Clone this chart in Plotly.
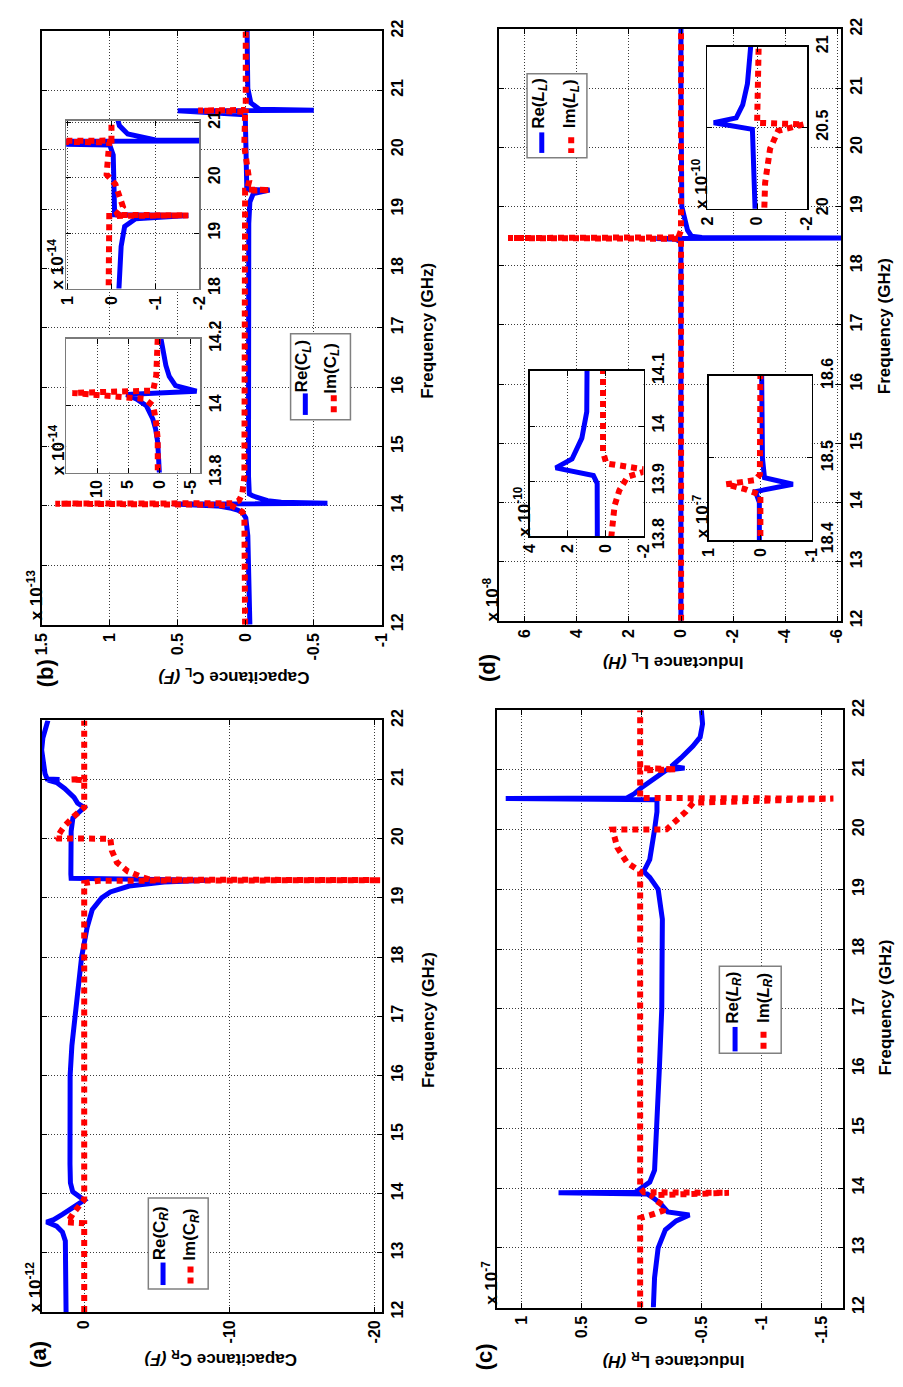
import plotly.graph_objects as go

# ---------------- data ----------------
# (a) Capacitance C_R, units of 1e-12 F
freq_a_re = [12.0, 12.5, 13.0, 13.2, 13.35, 13.45, 13.52, 13.56, 13.65, 13.75, 13.85, 13.89,
             14.03, 14.18, 14.5, 15.0, 16.0, 16.5, 17.0, 17.5, 18.0, 18.5, 18.8, 19.0, 19.1,
             19.2, 19.27, 19.3, 19.31, 19.33, 19.4, 20.13, 20.35, 20.46, 20.53, 20.6, 20.7,
             20.85, 20.95, 20.99, 21.0, 21.01, 21.1, 21.3, 21.5, 21.7, 21.85, 22.0]
re_a = [1.25, 1.25, 1.22, 1.3, 1.5, 1.9, 2.6, 2.1, 1.5, 0.9, 0.3, 0.0,
        0.79, 0.95, 0.98, 1.0, 0.97, 0.85, 0.6, 0.4, 0.18, -0.2, -0.55, -1.2, -1.8,
        -3.1, -5.5, -8.5, 0.5, 0.9, 0.92, 0.9, 0.78, 0.35, 0.0, 0.45, 0.7,
        1.35, 1.9, 2.5, 1.7, 2.55, 2.7, 2.85, 2.93, 2.85, 2.7, 2.5]
freq_a_im = [12.0, 13.5, 13.515, 13.55, 13.65, 13.75, 13.85, 13.9, 14.5, 19.25, 19.29, 19.3,
             19.31, 19.35, 19.45, 19.6, 19.8, 20.0, 20.005, 20.13, 20.23, 20.38, 20.53, 20.99,
             21.0, 21.01, 22.0]
im_a = [0.0, 0.0, 1.2, 1.05, 0.8, 0.5, 0.2, 0.0, 0.0, 0.0, -1.0, -20.4,
        -4.5, -4.0, -3.0, -2.25, -1.9, -1.8, 1.9, 1.6, 1.3, 0.7, 0.0, 0.0,
        0.9, 0.0, 0.0]

# (b) Capacitance C_L, units of 1e-14 F
freq_b_re = [12.0, 13.0, 13.5, 13.8, 13.85, 13.89, 13.93, 13.96, 14.0, 14.02, 14.033, 14.043,
             14.06, 14.087, 14.12, 14.17, 14.2, 14.5, 15.0, 16.0, 17.0, 18.0, 18.76, 19.12,
             19.26, 19.32, 19.33, 19.4, 19.82, 20.41, 20.59, 20.655, 20.665, 20.68, 20.79,
             20.94, 21.03, 21.5, 22.0]
re_b = [-0.3, -0.25, -0.15, 0.0, 0.1, 0.26, 0.6, 1.05, 2.1, 3.7, 5.3, -6.0,
        -2.6, -1.6, -1.05, -0.5, -0.26, -0.2, -0.2, -0.2, -0.18, -0.17, -0.22, -0.3,
        -0.55, -1.75, -0.07, -0.07, -0.06, -0.04, 0.04, 5.0, -5.0, -1.0, -0.37,
        -0.18, -0.15, -0.12, -0.1]
freq_b_im = [12.0, 13.8, 13.9, 13.96, 14.0, 14.02, 14.038, 14.045, 14.09, 14.2, 14.5, 19.2,
             19.31, 19.32, 19.33, 19.48, 19.7, 19.88, 20.06, 20.41, 20.64, 20.66, 20.67,
             21.0, 22.0]
im_b = [0.05, 0.1, 0.26, 0.6, 1.0, 2.4, 14.0, 1.0, 0.5, 0.26, 0.1, 0.05,
        0.05, -1.75, -0.1, -0.26, -0.15, -0.09, 0.11, 0.07, 0.05, 3.5, 0.0,
        0.0, 0.0]

# (c) Inductance L_R, units of 1e-7 H
freq_c_re = [12.0, 12.5, 13.0, 13.3, 13.45, 13.55, 13.6, 13.75, 13.85, 13.9, 13.92, 13.93,
             14.0, 14.1, 14.3, 15.0, 16.0, 17.0, 18.0, 18.5, 19.0, 19.2, 19.3, 19.5, 20.0,
             20.3, 20.5, 20.52, 20.53, 20.6, 20.7, 20.85, 21.0, 21.03, 21.06, 21.2, 21.4,
             21.55, 21.77, 22.0]
re_c = [-0.10, -0.11, -0.14, -0.2, -0.29, -0.40, -0.22, -0.155, -0.09, -0.05, 0.69, 0.05,
        0.0, -0.07, -0.11, -0.13, -0.15, -0.17, -0.18, -0.175, -0.14, -0.07, -0.02, -0.07, -0.11,
        -0.13, -0.13, 1.13, 0.12, 0.06, 0.0, -0.1, -0.21, -0.36, -0.25, -0.33, -0.43,
        -0.49, -0.51, -0.5]
freq_c_im = [12.0, 13.5, 13.55, 13.62, 13.7, 13.78, 13.88, 13.92, 13.93, 14.0, 19.3, 19.45,
             19.7, 20.0, 20.005, 20.15, 20.3, 20.45, 20.52, 20.53, 20.99, 21.01, 21.03, 22.0]
im_c = [0.01, 0.01, -0.08, -0.18, -0.19, -0.13, -0.08, -0.73, -0.02, 0.01, 0.01, 0.12,
        0.2, 0.24, -0.21, -0.29, -0.37, -0.43, -1.6, 0.01, 0.01, -0.29, 0.01, 0.01]

# (d) Inductance L_L, units of 1e-10 H
freq_d_re = [12.0, 13.8, 13.896, 13.91, 13.924, 13.94, 13.978, 14.026, 14.1, 15.0, 17.0,
             18.4, 18.446, 18.459, 18.468, 18.476, 18.5, 18.6, 19.0, 19.8, 20.03, 20.37,
             20.49, 20.53, 20.56, 20.64, 20.77, 21.0, 22.0]
re_d = [0.3, 0.4, 0.45, 0.65, 2.64, 1.78, 1.26, 1.0, 0.83, 0.5, 0.3,
        0.2, 20.0, 95.0, -630.0, -80.0, -40.0, -25.0, -3.0, 0.05, 0.09, 0.13,
        0.19, 1.74, 0.84, 0.58, 0.39, 0.26, 0.2]
freq_d_im = [12.0, 13.8, 13.855, 13.883, 13.908, 13.92, 13.932, 13.953, 14.1, 15.0, 18.0,
             18.455, 18.462, 18.468, 18.473, 18.48, 18.6, 19.8, 20.03, 20.16, 20.37, 20.48,
             20.52, 20.53, 21.0, 22.0]
im_d = [-0.2, -0.3, -0.47, -0.72, -1.16, -2.3, -0.03, 0.14, 0.14, 0.1, 0.0,
        0.0, 300.0, 665.0, 100.0, 10.0, 0.0, -0.2, -0.26, -0.32, -0.52, -0.84,
        -1.87, 0.0, -0.06, 0.0]

# tick values
freq_ticks = [12, 13, 14, 15, 16, 17, 18, 19, 20, 21, 22]
ticks_a = [0, -10, -20]
ticks_b = [1.5, 1, 0.5, 0, -0.5, -1]
ticks_c = [1, 0.5, 0, -0.5, -1, -1.5]
ticks_d = [6, 4, 2, 0, -2, -4, -6]
ticks_b1_val = [10, 5, 0, -5]
ticks_b1_f = [13.8, 14, 14.2]
ticks_b2_val = [1, 0, -1, -2]
ticks_b2_f = [18, 19, 20, 21]
ticks_dA_val = [4, 2, 0, -2]
ticks_dA_f = [13.8, 13.9, 14, 14.1]
ticks_dB_val = [1, 0, -1]
ticks_dB_f = [18.4, 18.5, 18.6]
ticks_dC_val = [2, 0, -2]
ticks_dC_f = [20, 20.5, 21]

# ---------------- figure ----------------
W, H = 903, 1387
FONT = "Liberation Sans"
BLUE = "#0000ff"
RED = "#ff0000"


def px_x(x):
    return x / W


def px_y(y):
    return 1 - y / H


def nm(n):
    return "" if n == 1 else str(n)


def fmt(v):
    return "%g" % v


# id, x-domain px, y-domain px (top,bottom), value range, value ticks, freq range, freq ticks, style
specs = [
    (1, (33.3, 380), (718.5, 1323.5), [2.93, -20.5], ticks_a, [12, 22], freq_ticks, "main"),
    (2, (33.3, 380), (13.3, 620.5), [1.5, -1], ticks_b, [12, 22], freq_ticks, "main"),
    (3, (497.7, 850), (708, 1319), [1.2, -1.68], ticks_c, [12, 22], freq_ticks, "main"),
    (4, (499.3, 848), (11.3, 616.6), [7.0, -6.15], ticks_d, [12, 22], freq_ticks, "main"),
    (5, (58.3, 195), (328, 465), [15, -6.6], ticks_b1_val, [13.8, 14.2], ticks_b1_f, "gray"),
    (6, (58.3, 194), (105, 276.7), [1.03, -2], ticks_b2_val, [18, 21.03], ticks_b2_f, "gray"),
    (7, (531, 646.7), (361, 530), [4, -2], ticks_dA_val, [13.8, 14.1], ticks_dA_f, "black"),
    (8, (713.3, 818.3), (366, 534), [1, -1], ticks_dB_val, [18.4, 18.6], ticks_dB_f, "black"),
    (9, (711.7, 813.3), (29.3, 195), [2, -2], ticks_dC_val, [20, 21], ticks_dC_f, "black"),
]

layout = dict(
    width=W, height=H,
    margin=dict(l=0, r=0, t=0, b=0),
    paper_bgcolor="white", plot_bgcolor="white",
    showlegend=False,
    font=dict(family=FONT, size=16, color="black"),
)

for n, xd, yd, xr, xt, yr, yt, style in specs:
    if style == "main":
        lc, lw = "black", 2
    elif style == "gray":
        lc, lw = "#7a7a7a", 1.2
    else:
        lc, lw = "black", 1.6
    tf = dict(family=FONT, size=16, color="black", weight="bold")
    common = dict(
        showline=True, linecolor=lc, linewidth=lw, mirror="ticks",
        ticks="inside", ticklen=5, tickwidth=1, tickcolor="black",
        showgrid=True, gridcolor="#3a3a3a", gridwidth=1, griddash="1px,2px",
        zeroline=False, tickfont=tf, tickangle=-90, fixedrange=True,
    )
    layout["xaxis" + nm(n)] = dict(
        domain=[px_x(xd[0]), px_x(xd[1])], range=xr, anchor="y" + nm(n),
        tickmode="array", tickvals=xt, ticktext=[fmt(v) for v in xt],
        side="bottom", **common)
    layout["yaxis" + nm(n)] = dict(
        domain=[px_y(yd[1]), px_y(yd[0])], range=yr, anchor="x" + nm(n),
        tickmode="array", tickvals=yt, ticktext=[fmt(v) for v in yt],
        side="right", **common)

fig = go.Figure()


def add_pair(n, fre, vre, fim, vim, scale):
    fig.add_trace(go.Scatter(
        x=[v * scale for v in vre], y=fre, mode="lines",
        line=dict(color=BLUE, width=5), xaxis="x" + nm(n), yaxis="y" + nm(n),
        hoverinfo="skip"))
    fig.add_trace(go.Scatter(
        x=[v * scale for v in vim], y=fim, mode="lines",
        line=dict(color=RED, width=6, dash="6px,5px"), xaxis="x" + nm(n), yaxis="y" + nm(n),
        hoverinfo="skip"))


# main panels
add_pair(1, freq_a_re, re_a, freq_a_im, im_a, 1.0)          # x 1e-12
add_pair(2, freq_b_re, re_b, freq_b_im, im_b, 0.1)          # x 1e-13
add_pair(3, freq_c_re, re_c, freq_c_im, im_c, 1.0)          # x 1e-7
add_pair(4, freq_d_re, re_d, freq_d_im, im_d, 0.01)         # x 1e-8
# insets
add_pair(5, freq_b_re, re_b, freq_b_im, im_b, 1.0)          # x 1e-14
add_pair(6, freq_b_re, re_b, freq_b_im, im_b, 1.0)          # x 1e-14
add_pair(7, freq_d_re, re_d, freq_d_im, im_d, 1.0)          # x 1e-10
add_pair(8, freq_d_re, re_d, freq_d_im, im_d, 0.001)        # x 1e-7
add_pair(9, freq_d_re, re_d, freq_d_im, im_d, 1.0)          # x 1e-10

annotations = []
shapes = []


def ann(text, x, y, angle=-90, size=16, weight="bold"):
    annotations.append(dict(
        text=text, x=px_x(x), y=px_y(y), xref="paper", yref="paper",
        showarrow=False, textangle=angle, xanchor="center", yanchor="middle",
        font=dict(family=FONT, size=size, color="black", weight=weight)))


# panel labels
ann("(a)", 30, 1367, size=22)
ann("(b)", 37, 670, size=22)
ann("(c)", 485, 1369, size=22)
ann("(d)", 487, 665, size=22)

# value-axis titles (upside down)
ann("Capacitance C<sub>R</sub> <i>(F)</i>", 215, 1370, angle=180, size=17)
ann("Capacitance C<sub>L</sub> <i>(F)</i>", 229, 673, angle=180, size=17)
ann("Inductance L<sub>R</sub> <i>(H)</i>", 677, 1372, angle=180, size=17)
ann("Inductance L<sub>L</sub> <i>(H)</i>", 677, 657, angle=180, size=17)

# frequency titles
ann("Frequency (GHz)", 427, 1025, size=17)
ann("Frequency (GHz)", 427, 320, size=17)
ann("Frequency (GHz)", 893, 1012, size=17)
ann("Frequency (GHz)", 893, 315, size=17)

# exponent labels
ann("x 10<sup>-12</sup>", 25, 1298, size=17)
ann("x 10<sup>-13</sup>", 26, 590, size=17)
ann("x 10<sup>-7</sup>", 490, 1294, size=17)
ann("x 10<sup>-8</sup>", 491, 595, size=17)
ann("x 10<sup>-14</sup>", 49, 442, size=17)
ann("x 10<sup>-14</sup>", 48, 252, size=17)
ann("x 10<sup>-10</sup>", 523, 505, size=17)
ann("x 10<sup>-7</sup>", 705, 510, size=17)
ann("x 10<sup>-10</sup>", 704, 169, size=17)


# legends (drawn rotated like the reference)
def legend(box, re_txt, re_c, re_line, im_txt, im_c, im_line):
    x0, x1, y0, y1 = box
    shapes.append(dict(type="rect", xref="paper", yref="paper",
                       x0=px_x(x0), x1=px_x(x1), y0=px_y(y1), y1=px_y(y0),
                       line=dict(color="#808080", width=1.5), fillcolor="white",
                       layer="above"))
    ann(re_txt, re_c[0], re_c[1], size=17)
    ann(im_txt, im_c[0], im_c[1], size=17)
    shapes.append(dict(type="line", xref="paper", yref="paper",
                       x0=px_x(re_line[0]), x1=px_x(re_line[0]),
                       y0=px_y(re_line[1]), y1=px_y(re_line[2]),
                       line=dict(color=BLUE, width=5), layer="above"))
    shapes.append(dict(type="line", xref="paper", yref="paper",
                       x0=px_x(im_line[0]), x1=px_x(im_line[0]),
                       y0=px_y(im_line[1]), y1=px_y(im_line[2]),
                       line=dict(color=RED, width=6, dash="6px,5px"), layer="above"))


legend((142, 203, 1207, 1300), "Re(C<sub><i>R</i></sub>)", (155, 1243), (157, 1273, 1296),
       "Im(C<sub><i>R</i></sub>)", (186, 1244), (185, 1277, 1297))
legend((287, 348, 323, 411), "Re(C<sub><i>L</i></sub>)", (300, 356), (302, 384, 406),
       "Im(C<sub><i>L</i></sub>)", (329, 358), (331, 386, 406))
legend((724, 787, 970, 1059), "Re(<i>L</i><sub><i>R</i></sub>)", (738, 1002), (740, 1032, 1057),
       "Im(<i>L</i><sub><i>R</i></sub>)", (770, 1003), (769, 1037, 1057))
legend((528, 589, 57, 143), "Re(<i>L</i><sub><i>L</i></sub>)", (541, 87), (543, 117, 138),
       "Im(<i>L</i><sub><i>L</i></sub>)", (573, 88), (573, 122, 138))

layout["annotations"] = annotations
layout["shapes"] = shapes
fig.update_layout(**layout)

fig.write_html(
    "out.html",
    config={"displayModeBar": False, "staticPlot": True},
    post_script=(
        "document.documentElement.style.margin='0';"
        "document.body.style.margin='0';"
        "document.body.style.padding='0';"
        "document.body.style.overflow='hidden';"
    ),
)
